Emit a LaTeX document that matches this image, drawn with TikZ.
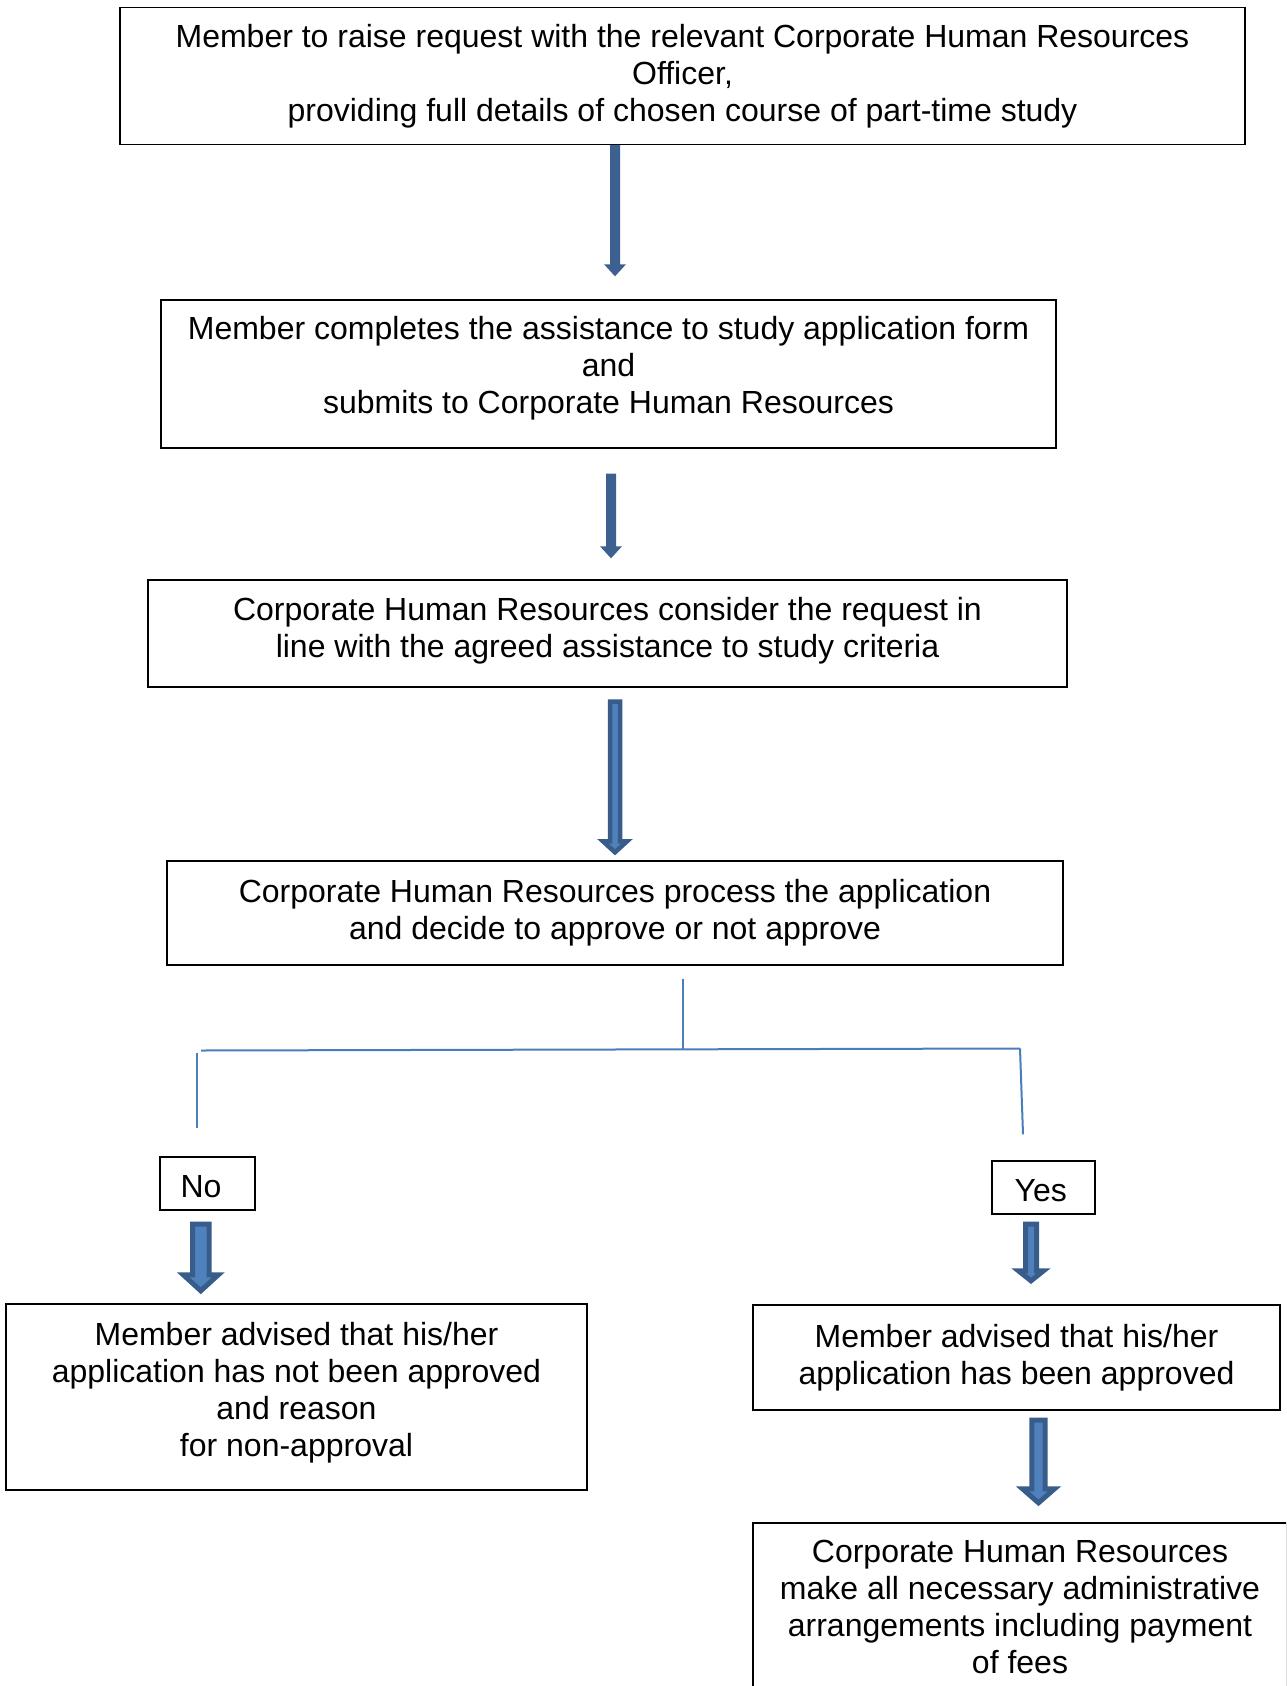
\documentclass[tikz,border=0pt]{standalone}
\usepackage{fontspec}
\setmainfont{Liberation Sans}
\usetikzlibrary{calc}
\definecolor{arrdark}{HTML}{385D8A}
\definecolor{arrlight}{HTML}{4F81BD}
\definecolor{arrflat}{HTML}{3C6190}
\definecolor{conn}{HTML}{4A7EBB}
\tikzset{
  box/.style={draw=black, line width=0.7pt, align=center, inner sep=0pt,
    font=\fontsize{16}{18.5}\selectfont},
  txt/.style={align=center, inner sep=0pt, font=\fontsize{16}{18.5}\selectfont},
  barrow/.style n args={3}{to path={let \p1=(\tikztostart), \p2=(\tikztotarget) in
    (\x1-#1,\y1) -- (\x1+#1,\y1) -- (\x1+#1,\y2+#3) -- (\x1+#2,\y2+#3) -- (\x1,\y2)
    -- (\x1-#2,\y2+#3) -- (\x1-#1,\y2+#3) -- cycle}},
  flatarrow/.style={fill=arrflat, draw=none},
  outarrow/.style={fill=arrlight, draw=arrdark, line width=2.5pt, line join=miter},
  connline/.style={draw=conn, line width=1pt},
}
\begin{document}
\begin{tikzpicture}[x=0.5pt,y=-0.5pt]
\useasboundingbox (0,0) rectangle (1286,1686);
\clip (0,0) rectangle (1286,1686);
\fill[white] (0,0) rectangle (1286,1686);

\node[box, minimum width=562.5pt, minimum height=68.25pt] (b1) at (682.5,76)
  {Member to raise request with the relevant Corporate Human Resources\\Officer,\\providing full details of chosen course of part-time study};
\node[box, minimum width=447.5pt, minimum height=74pt] (b2) at (608.5,374) {};
\node[txt] (b2t) at ($(b2)+(0,-5.4)$)
  {Member completes the assistance to study application form\\and\\submits to Corporate Human Resources};
\node[box, minimum width=459.5pt, minimum height=53.5pt] (b3) at (607.5,633.5) {};
\node[txt] (b3t) at ($(b3)+(0,-3.2)$)
  {Corporate Human Resources consider the request in\\line with the agreed assistance to study criteria};
\node[box, minimum width=448pt, minimum height=52pt] (b4) at (615,913)
  {Corporate Human Resources process the application\\and decide to approve or not approve};
\node[box, minimum width=47.5pt, minimum height=26.5pt] (no) at (207.5,1183.5) {};
\node[txt] (not) at ($(no)+(-6.5,3.2)$) {No};
\node[box, minimum width=51.5pt, minimum height=26.5pt] (yes) at (1043.5,1187.5) {};
\node[txt] (yest) at ($(yes)+(-2.7,3.2)$) {Yes};
\node[box, minimum width=290.5pt, minimum height=93pt] (nres) at (296.5,1397) {};
\node[txt] (nrest) at ($(nres)+(0,-4.3)$)
  {Member advised that his/her\\application has not been approved\\and reason\\for non-approval};
\node[box, minimum width=263.5pt, minimum height=52.5pt] (yres) at (1016.5,1357.5)
  {Member advised that his/her\\application has been approved};
\node[box, minimum width=267pt, minimum height=84pt] (fin) at (1020,1607)
  {Corporate Human Resources\\make all necessary administrative\\arrangements including payment\\of fees};

% block arrows
\draw[flatarrow, barrow={2.5pt}{5.5pt}{6pt}] ($(b1.south)+(-67.5,0)$) to ($(b2.north)+(6.5,-23)$);
\draw[flatarrow, barrow={2.5pt}{5.5pt}{6pt}] ($(b2.south)+(2.5,25)$) to ($(b3.north)+(3.5,-21)$);
\draw[outarrow, line width=2.25pt, barrow={2.5pt}{6pt}{5.5pt}] ($(b3.south)+(7.5,14)$) to ($(b4.north)+(0,-8)$);
\draw[outarrow, barrow={4.15pt}{8.75pt}{8pt}] ($(no.south)+(-6.7,13.5)$) to ($(nres.north)+(-95.7,-12.5)$);
\draw[outarrow, barrow={2.75pt}{6.25pt}{5pt}] ($(yes.south)+(-12.5,9.5)$) to ($(yres.north)+(14.5,-23.5)$);
\draw[outarrow, barrow={3.35pt}{8pt}{7pt}] ($(yres.south)+(22,9.5)$) to ($(fin.north)+(18.5,-19.5)$);

% decision connectors
\coordinate (j) at (683,1049.5);
\coordinate (hl) at (201,1050.5);
\coordinate (hr) at (1020,1048.5);
\coordinate (vl) at (197,1053);
\draw[connline] ($(b4.south)+(68,13)$) -- (j);
\draw[connline] (hl) -- (hr);
\draw[connline] (vl) -- ($(no.north)+(-10.5,-28)$);
\draw[connline] (hr) -- ($(yes.north)+(-20.5,-26)$);
\end{tikzpicture}
\end{document}
